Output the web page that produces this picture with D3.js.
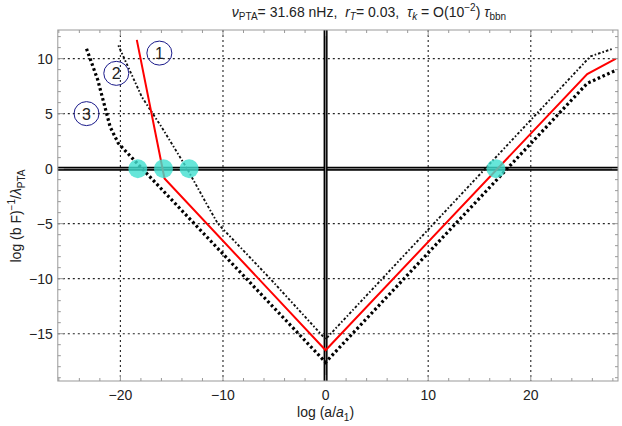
<!DOCTYPE html>
<meta charset="utf-8">
<script src="https://d3js.org/d3.v7.min.js"></script>
<style>
body { margin: 0; background: #fff; }
text { font-family: "Liberation Sans", Arial, sans-serif; fill: #222; white-space: pre; }
</style>
<body>
</body>
<script>

// curves: [log(a/a1), log(bF)^-1/lambda]
var line1 = [[-18.4, 11.7], [-15.7, -0.9], [0, -16.5], [25.5, 8.6], [28.3, 10.0]];
var line2 = [[-20.2, 11.2], [-19.25, 9.25], [-17.9, 6.5], [-16.0, 3.8], [-13.5, 0], [-11.6, -3.2],
             [-10.5, -5.0], [-5.4, -10.0], [0, -15.5], [25.8, 10.2], [28.0, 10.9]];
var line3 = [[-23.3, 10.9], [-22.2, 8.05], [-21.0, 3.8], [-20.2, 2.3], [-19.4, 1.5],
             [0, -17.6], [25.5, 7.75], [28.2, 8.9]];
var crossings = [-18.3, -15.8, -13.3, 16.6];
var labelText = ["1", "2", "3"];
var labelPos = [[-16.2, 10.5], [-20.4, 8.66], [-23.3, 5.0]];
var xTicks = [-20, -10, 0, 10, 20];
var yTicks = [-15, -10, -5, 0, 5, 10];
var xGrid = [-20, -10, 10, 20];
var yGrid = [-15, -10, -5, 5, 10];

var W = 622, H = 426;
var x0 = 57.8, x1 = 618, y0 = 30, y1 = 381;

var svg = d3.select('body').append('svg')
  .attr('width', W)
  .attr('height', H);

var xScale = d3.scaleLinear().domain([-26.1, 28.5]).range([x0, x1]);
var yScale = d3.scaleLinear().domain([-19.3, 12.6]).range([y1, y0]);

//grid
svg.selectAll('.vgrid').data(xGrid).enter().append('line')
  .attr('x1', d => xScale(d)).attr('x2', d => xScale(d))
  .attr('y1', y0).attr('y2', y1)
  .attr('stroke', '#222').attr('stroke-width', 1.1).attr('stroke-dasharray', '2,3');
svg.selectAll('.hgrid').data(yGrid).enter().append('line')
  .attr('x1', x0).attr('x2', x1)
  .attr('y1', d => yScale(d)).attr('y2', d => yScale(d))
  .attr('stroke', '#222').attr('stroke-width', 1.1).attr('stroke-dasharray', '2,3');

//zero axes (double line)
function zeroLine(xa, ya, xb, yb) {
  svg.append('line').attr('x1', xa).attr('y1', ya).attr('x2', xb).attr('y2', yb)
    .attr('stroke', '#000').attr('stroke-width', 4);
  svg.append('line').attr('x1', xa).attr('y1', ya).attr('x2', xb).attr('y2', yb)
    .attr('stroke', '#888').attr('stroke-width', 1);
}
zeroLine(x0, yScale(0), x1, yScale(0));
zeroLine(xScale(0), y0, xScale(0), y1);

//curves
var line = d3.line().x(d => xScale(d[0])).y(d => yScale(d[1]));
var plot = svg.append('g');
plot.append('path').datum(line3).attr('d', line)
  .attr('fill', 'none').attr('stroke', '#000').attr('stroke-width', 3.2)
  .attr('stroke-dasharray', '2.6,2.6');
plot.append('path').datum(line2).attr('d', line)
  .attr('fill', 'none').attr('stroke', '#111').attr('stroke-width', 1.9)
  .attr('stroke-dasharray', '1.6,2,2.6,2');
plot.append('path').datum(line1).attr('d', line)
  .attr('fill', 'none').attr('stroke', '#ff0000').attr('stroke-width', 2);

//crossing points
svg.selectAll('.cross').data(crossings).enter().append('circle')
  .attr('cx', d => xScale(d)).attr('cy', yScale(0)).attr('r', 9.5)
  .attr('fill', '#40e0d0').attr('fill-opacity', 0.8);

//circled labels
var lab = svg.selectAll('.lab').data(labelText).enter().append('g')
  .attr('transform', (d, i) => 'translate(' + xScale(labelPos[i][0]) + ',' + yScale(labelPos[i][1]) + ')');
lab.append('ellipse').attr('rx', 12.5).attr('ry', 12)
  .attr('fill', 'none').attr('stroke', '#1a1a8a').attr('stroke-width', 1);
lab.append('text').text(d => d)
  .attr('text-anchor', 'middle').attr('dy', 6).style('font-size', '16px');

//frame
svg.append('rect').attr('x', x0).attr('y', y0).attr('width', x1 - x0).attr('height', y1 - y0)
  .attr('fill', 'none').attr('stroke', '#999').attr('stroke-width', 1);

var xMinor = d3.range(-26, 29, 2).filter(v => v % 10 !== 0);
var yMinor = d3.range(-19, 13, 1).filter(v => v % 5 !== 0);
var tk = svg.append('g').attr('stroke', '#999').attr('stroke-width', 1);
xTicks.forEach(v => {
  tk.append('line').attr('x1', xScale(v)).attr('x2', xScale(v)).attr('y1', y1).attr('y2', y1 - 6);
  tk.append('line').attr('x1', xScale(v)).attr('x2', xScale(v)).attr('y1', y0).attr('y2', y0 + 6);
});
xMinor.forEach(v => {
  tk.append('line').attr('x1', xScale(v)).attr('x2', xScale(v)).attr('y1', y1).attr('y2', y1 - 3);
  tk.append('line').attr('x1', xScale(v)).attr('x2', xScale(v)).attr('y1', y0).attr('y2', y0 + 3);
});
yTicks.forEach(v => {
  tk.append('line').attr('y1', yScale(v)).attr('y2', yScale(v)).attr('x1', x0).attr('x2', x0 + 6);
  tk.append('line').attr('y1', yScale(v)).attr('y2', yScale(v)).attr('x1', x1).attr('x2', x1 - 6);
});
yMinor.forEach(v => {
  tk.append('line').attr('y1', yScale(v)).attr('y2', yScale(v)).attr('x1', x0).attr('x2', x0 + 3);
  tk.append('line').attr('y1', yScale(v)).attr('y2', yScale(v)).attr('x1', x1).attr('x2', x1 - 3);
});

function fmt(v) { return v < 0 ? '\u2212' + (-v) : '' + v; }

svg.selectAll('.xt').data(xTicks).enter().append('text')
  .attr('x', d => xScale(d)).attr('y', y1 + 19)
  .attr('text-anchor', 'middle').style('font-size', '14px').text(fmt);
svg.selectAll('.yt').data(yTicks).enter().append('text')
  .attr('x', x0 - 5).attr('y', d => yScale(d) + 5)
  .attr('text-anchor', 'end').style('font-size', '14px').text(fmt);

//axis labels
var xl = svg.append('text').attr('x', xScale(0)).attr('y', 417)
  .attr('text-anchor', 'middle').style('font-size', '14px');
xl.append('tspan').text('log (a/');
xl.append('tspan').text('a').style('font-style', 'italic');
xl.append('tspan').text('1').attr('dy', 4).style('font-size', '10px');
xl.append('tspan').text(')').attr('dy', -4);

var yl = svg.append('text')
  .attr('transform', 'translate(21,' + 216 + ') rotate(-90)')
  .attr('text-anchor', 'middle').style('font-size', '14px');
yl.append('tspan').text('log (b F)');
yl.append('tspan').text('\u22121').attr('dy', -6).style('font-size', '10px');
yl.append('tspan').text('/').attr('dy', 6);
yl.append('tspan').text('\u03bb').style('font-style', 'italic');
yl.append('tspan').text('PTA').attr('dy', 4).style('font-size', '10px');

//title
var tt = svg.append('text').attr('x', 369).attr('y', 17)
  .attr('text-anchor', 'middle').style('font-size', '14px');
tt.append('tspan').text('\u03bd').style('font-style', 'italic');
tt.append('tspan').text('PTA').attr('dy', 3).style('font-size', '10px');
tt.append('tspan').text('= 31.68 nHz,  ').attr('dy', -3);
tt.append('tspan').text('r').style('font-style', 'italic');
tt.append('tspan').text('T').attr('dy', 3).style('font-size', '10px').style('font-style', 'italic');
tt.append('tspan').text('= 0.03,  ').attr('dy', -3);
tt.append('tspan').text('\u03c4').style('font-style', 'italic');
tt.append('tspan').text('k').attr('dy', 3).style('font-size', '10px').style('font-style', 'italic');
tt.append('tspan').text(' = O(10').attr('dy', -3);
tt.append('tspan').text('\u22122').attr('dy', -6).style('font-size', '10px');
tt.append('tspan').text(') ').attr('dy', 6);
tt.append('tspan').text('\u03c4').style('font-style', 'italic');
tt.append('tspan').text('bbn').attr('dy', 3).style('font-size', '10px');

</script>
